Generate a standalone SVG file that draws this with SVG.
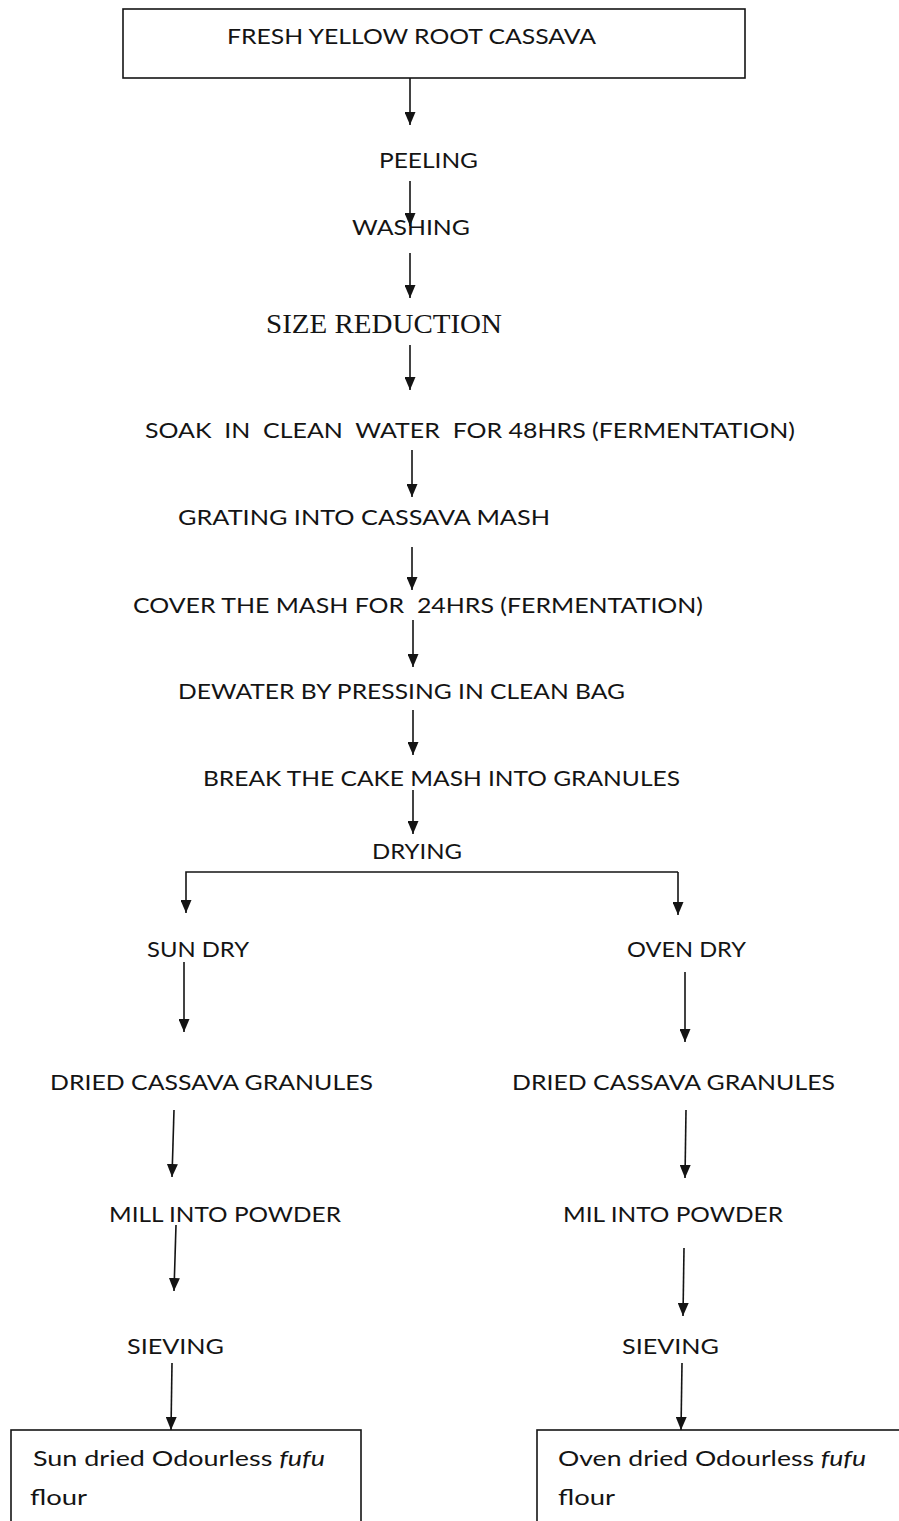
<svg xmlns="http://www.w3.org/2000/svg" width="899" height="1521" viewBox="0 0 899 1521">
<style>
.t{font-family:Lato,"Open Sans","Liberation Sans",sans-serif;font-size:22px;fill:#141414}
.s{font-family:"Liberation Serif","Times New Roman",serif;font-size:27px;fill:#141414}
.box{fill:#fff;stroke:#141414;stroke-width:1.6}
.c{stroke:#141414;stroke-width:1.6;fill:none}
.a{marker-end:url(#ah)}
</style>
<defs>
<marker id="ah" viewBox="0 0 13 11" refX="13" refY="5.5" markerWidth="13" markerHeight="11" markerUnits="userSpaceOnUse" orient="auto">
<path d="M0,0 L13,5.5 L0,11 z" fill="#141414"/>
</marker>
</defs>
<rect width="899" height="1521" fill="#fff"/>
<g id="n-fresh"><rect class="box" x="123" y="9" width="622" height="69"/><text class="t" x="227" y="44" textLength="369" lengthAdjust="spacingAndGlyphs">FRESH YELLOW ROOT CASSAVA</text></g>
<g id="n-peeling"><text class="t" x="379" y="168" textLength="99" lengthAdjust="spacingAndGlyphs">PEELING</text></g>
<g id="n-washing"><text class="t" x="352" y="235" textLength="118" lengthAdjust="spacingAndGlyphs">WASHING</text></g>
<g id="n-size"><text class="s" x="266" y="333" textLength="236" lengthAdjust="spacingAndGlyphs">SIZE REDUCTION</text></g>
<g id="n-soak"><text class="t" x="145" y="438" textLength="650" lengthAdjust="spacingAndGlyphs" xml:space="preserve">SOAK  IN  CLEAN  WATER  FOR 48HRS (FERMENTATION)</text></g>
<g id="n-grating"><text class="t" x="178" y="525" textLength="372" lengthAdjust="spacingAndGlyphs">GRATING INTO CASSAVA MASH</text></g>
<g id="n-cover"><text class="t" x="133" y="613" textLength="570" lengthAdjust="spacingAndGlyphs" xml:space="preserve">COVER THE MASH FOR  24HRS (FERMENTATION)</text></g>
<g id="n-dewater"><text class="t" x="178" y="699" textLength="447" lengthAdjust="spacingAndGlyphs">DEWATER BY PRESSING IN CLEAN BAG</text></g>
<g id="n-break"><text class="t" x="203" y="786" textLength="477" lengthAdjust="spacingAndGlyphs">BREAK THE CAKE MASH INTO GRANULES</text></g>
<g id="n-drying"><text class="t" x="372" y="859" textLength="90" lengthAdjust="spacingAndGlyphs">DRYING</text></g>
<g id="n-sundry"><text class="t" x="147" y="957" textLength="102" lengthAdjust="spacingAndGlyphs">SUN DRY</text></g>
<g id="n-ovendry"><text class="t" x="627" y="957" textLength="119" lengthAdjust="spacingAndGlyphs">OVEN DRY</text></g>
<g id="n-dried-l"><text class="t" x="50" y="1090" textLength="323" lengthAdjust="spacingAndGlyphs">DRIED CASSAVA GRANULES</text></g>
<g id="n-dried-r"><text class="t" x="512" y="1090" textLength="323" lengthAdjust="spacingAndGlyphs">DRIED CASSAVA GRANULES</text></g>
<g id="n-mill-l"><text class="t" x="109" y="1222" textLength="232" lengthAdjust="spacingAndGlyphs">MILL INTO POWDER</text></g>
<g id="n-mill-r"><text class="t" x="563" y="1222" textLength="220" lengthAdjust="spacingAndGlyphs">MIL INTO POWDER</text></g>
<g id="n-siev-l"><text class="t" x="127" y="1354" textLength="97" lengthAdjust="spacingAndGlyphs">SIEVING</text></g>
<g id="n-siev-r"><text class="t" x="622" y="1354" textLength="97" lengthAdjust="spacingAndGlyphs">SIEVING</text></g>
<g id="n-flour-l"><rect class="box" x="11" y="1430" width="350" height="120"/><text class="t" x="33" y="1466" textLength="292" lengthAdjust="spacingAndGlyphs">Sun dried Odourless <tspan font-style="italic">fufu</tspan></text><text class="t" x="30" y="1505" textLength="57" lengthAdjust="spacingAndGlyphs">flour</text></g>
<g id="n-flour-r"><rect class="box" x="537" y="1430" width="420" height="120"/><text class="t" x="558" y="1466" textLength="308" lengthAdjust="spacingAndGlyphs">Oven dried Odourless <tspan font-style="italic">fufu</tspan></text><text class="t" x="558" y="1505" textLength="57" lengthAdjust="spacingAndGlyphs">flour</text></g>
<g id="connectors">
<line class="c a" x1="410" y1="78" x2="410" y2="125"/>
<line class="c a" x1="410" y1="181" x2="410" y2="226"/>
<line class="c a" x1="410" y1="253" x2="410" y2="298"/>
<line class="c a" x1="410" y1="345" x2="410" y2="390"/>
<line class="c a" x1="412" y1="450" x2="412" y2="497"/>
<line class="c a" x1="412" y1="547" x2="412" y2="590"/>
<line class="c a" x1="413" y1="620" x2="413" y2="667"/>
<line class="c a" x1="413" y1="710" x2="413" y2="755"/>
<line class="c a" x1="413" y1="790" x2="413" y2="834"/>
<path class="c a" d="M678,872 L186,872 L186,913"/>
<line class="c a" x1="678" y1="872" x2="678" y2="915"/>
<line class="c a" x1="184" y1="962" x2="184" y2="1032"/>
<line class="c a" x1="685" y1="972" x2="685" y2="1042"/>
<line class="c a" x1="174" y1="1110" x2="172" y2="1177"/>
<line class="c a" x1="686" y1="1110" x2="685" y2="1178"/>
<line class="c a" x1="176" y1="1225" x2="174" y2="1291"/>
<line class="c a" x1="684" y1="1248" x2="683" y2="1316"/>
<line class="c a" x1="172" y1="1363" x2="171" y2="1430"/>
<line class="c a" x1="682" y1="1363" x2="681" y2="1430"/>
</g>
</svg>
